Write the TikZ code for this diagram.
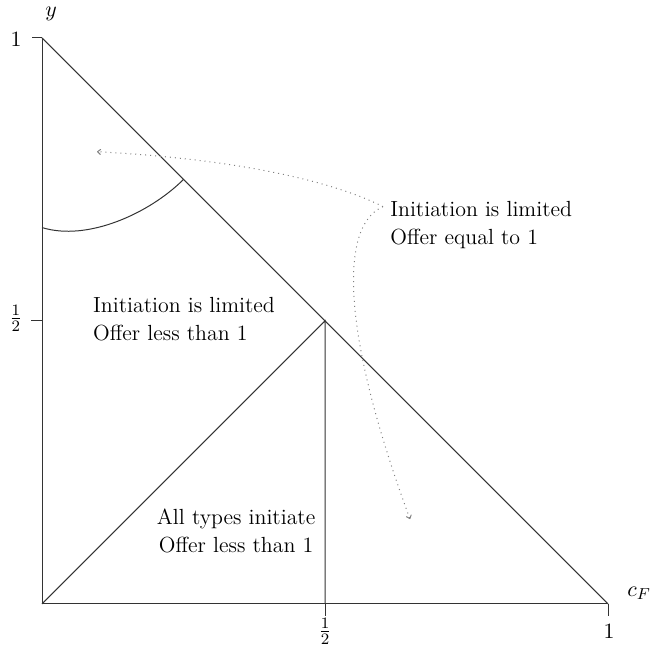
\documentclass[tikz,border=0pt]{standalone}
\usetikzlibrary{arrows.meta}
\begin{document}
\begin{tikzpicture}[x=10cm,y=10cm,
  every node/.style={font=\fontsize{11}{14}\selectfont},
  axis/.style={line width=0.5pt, black!80},
  region/.style={align=left, inner sep=0pt},
  pointer/.style={dotted, gray, line width=0.5pt, -{To[length=2pt,width=3pt]}},
  ticklbl/.style={inner sep=0pt}]
\useasboundingbox (-0.0742,-0.0882) rectangle (1.0901,1.0670);
% key points
\coordinate (O) at (0,0);
\coordinate (X) at (1,0);
\coordinate (Y) at (0,1);
\coordinate (H) at (0.5,0.5);
\coordinate (Hx) at (0.5,0);
\coordinate (Hy) at (0,0.5);
\coordinate (C0) at (0,0.665);
\coordinate (C1) at (0.25,0.75);
% axes
\draw[axis] (Y) -- (O) -- (X);
% ticks
\draw[axis] (Y) -- ++(-0.018,0);
\draw[axis] (Hy) -- ++(-0.02,0);
\draw[axis] (Hx) -- ++(0,-0.021);
\draw[axis] (X) -- ++(0,-0.021);
% tick labels
\node[ticklbl] (ly1) at (-0.046,0.9965) {$1$};
\node[ticklbl] (lyh) at (-0.046,0.504) {$\frac{1}{2}$};
\node[ticklbl] (lxh) at (0.5,-0.048) {$\frac{1}{2}$};
\node[ticklbl] (lx1) at (1.002,-0.049) {$1$};
\node[ticklbl] (ylab) at (0.016,1.042) {$y$};
\node[ticklbl] (xlab) at (1.055,0.019) {$c_F$};
% region boundaries
\draw[axis] (Y) -- (X);
\draw[axis] (O) -- (H) -- (Hx);
\draw[axis] (C0) .. controls (0.08,0.64) and (0.19,0.69) .. (C1);
% region labels
\node[region] (lim) at (0.251,0.503) {Initiation is limited\\Offer less than 1};
\node[region, align=center] (all) at (0.343,0.129) {All types initiate\\Offer less than 1};
\node[region] (eq) at (0.776,0.670) {Initiation is limited\\Offer equal to 1};
% pointers
\coordinate (S) at (0.6025,0.7019);
\coordinate (E1) at (0.0972,0.7989);
\coordinate (E2) at (0.6502,0.1499);
\draw[pointer] (S) .. controls (0.5265,0.7407) and (0.3675,0.7848) .. (E1);
\draw[pointer] (S) .. controls (0.5265,0.6702) and (0.5265,0.485) .. (E2);
\end{tikzpicture}
\end{document}
